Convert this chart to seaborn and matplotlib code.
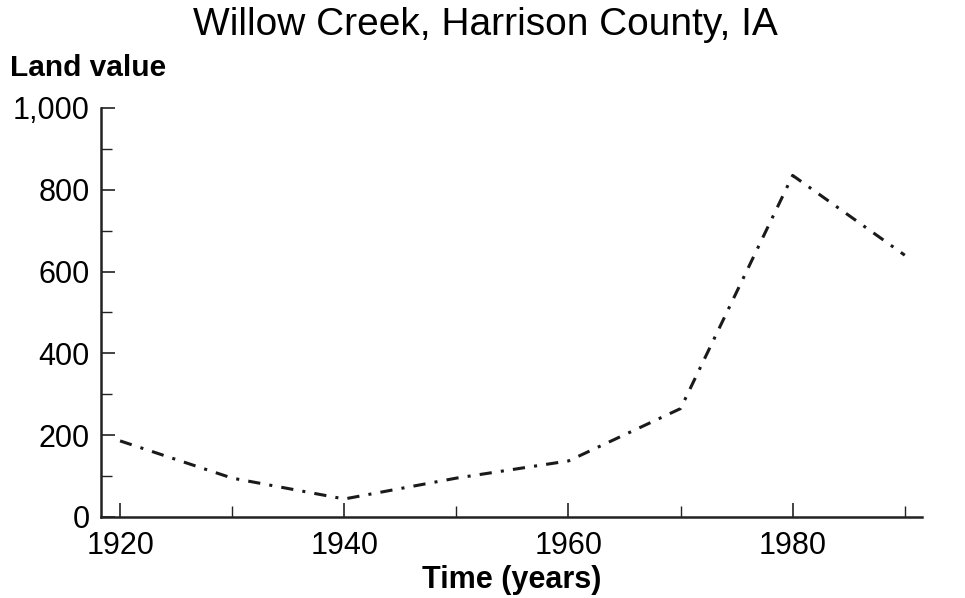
import pandas as pd
import seaborn as sns
import matplotlib.pyplot as plt

# Land value readings for Willow Creek
years = [1920, 1930, 1940, 1950, 1960, 1970, 1980, 1990]
land_value = [186, 95, 44, 95, 137, 265, 835, 640]

df = pd.DataFrame({"Year": years, "Land value": land_value})

sns.set_style("ticks")
plt.rcParams['font.family'] = ['Liberation Sans', 'DejaVu Sans']
plt.rcParams['text.color'] = 'black'
plt.rcParams['xtick.color'] = 'black'
plt.rcParams['ytick.color'] = 'black'
plt.rcParams['axes.labelcolor'] = 'black'

fig = plt.figure(figsize=(9.65, 5.98), dpi=100)
ax = fig.add_axes([0.1047, 0.1355, 0.8503, 0.684])

sns.lineplot(data=df, x="Year", y="Land value", ax=ax, color="#1a1a1a",
             linewidth=2.2, linestyle=(0, (4, 3, 1, 3)))

ax.set_xlim(1918.3, 1991.5)
ax.set_ylim(0, 1000)
ax.set_xticks([1920, 1940, 1960, 1980])
ax.set_xticks([1930, 1950, 1970, 1990], minor=True)
ax.set_yticks([0, 200, 400, 600, 800, 1000])
ax.set_yticklabels(["0", "200", "400", "600", "800", "1,000"])
ax.set_yticks([100, 300, 500, 700, 900], minor=True)
ax.tick_params(axis="both", which="both", direction="in", color="#222222")
ax.tick_params(axis="both", which="major", length=10, width=1.2, labelsize=22)
ax.tick_params(axis="both", which="minor", length=8, width=1.0)
ax.tick_params(axis="x", which="major", pad=10)
ax.tick_params(axis="y", which="major", pad=8)
for s in ["left", "bottom"]:
    ax.spines[s].set_linewidth(1.8)
    ax.spines[s].set_color("#222222")
sns.despine(ax=ax)

ax.set_xlabel("Time (years)", fontsize=22, fontweight="bold", labelpad=3)
ax.set_ylabel("")
fig.text(0.01, 0.886, "Land value", fontsize=21.5, fontweight="bold", ha="left", va="center")
fig.text(0.503, 0.958, "Willow Creek, Harrison County, IA", fontsize=28, ha="center", va="center")

fig.savefig("out.png", dpi=100)
